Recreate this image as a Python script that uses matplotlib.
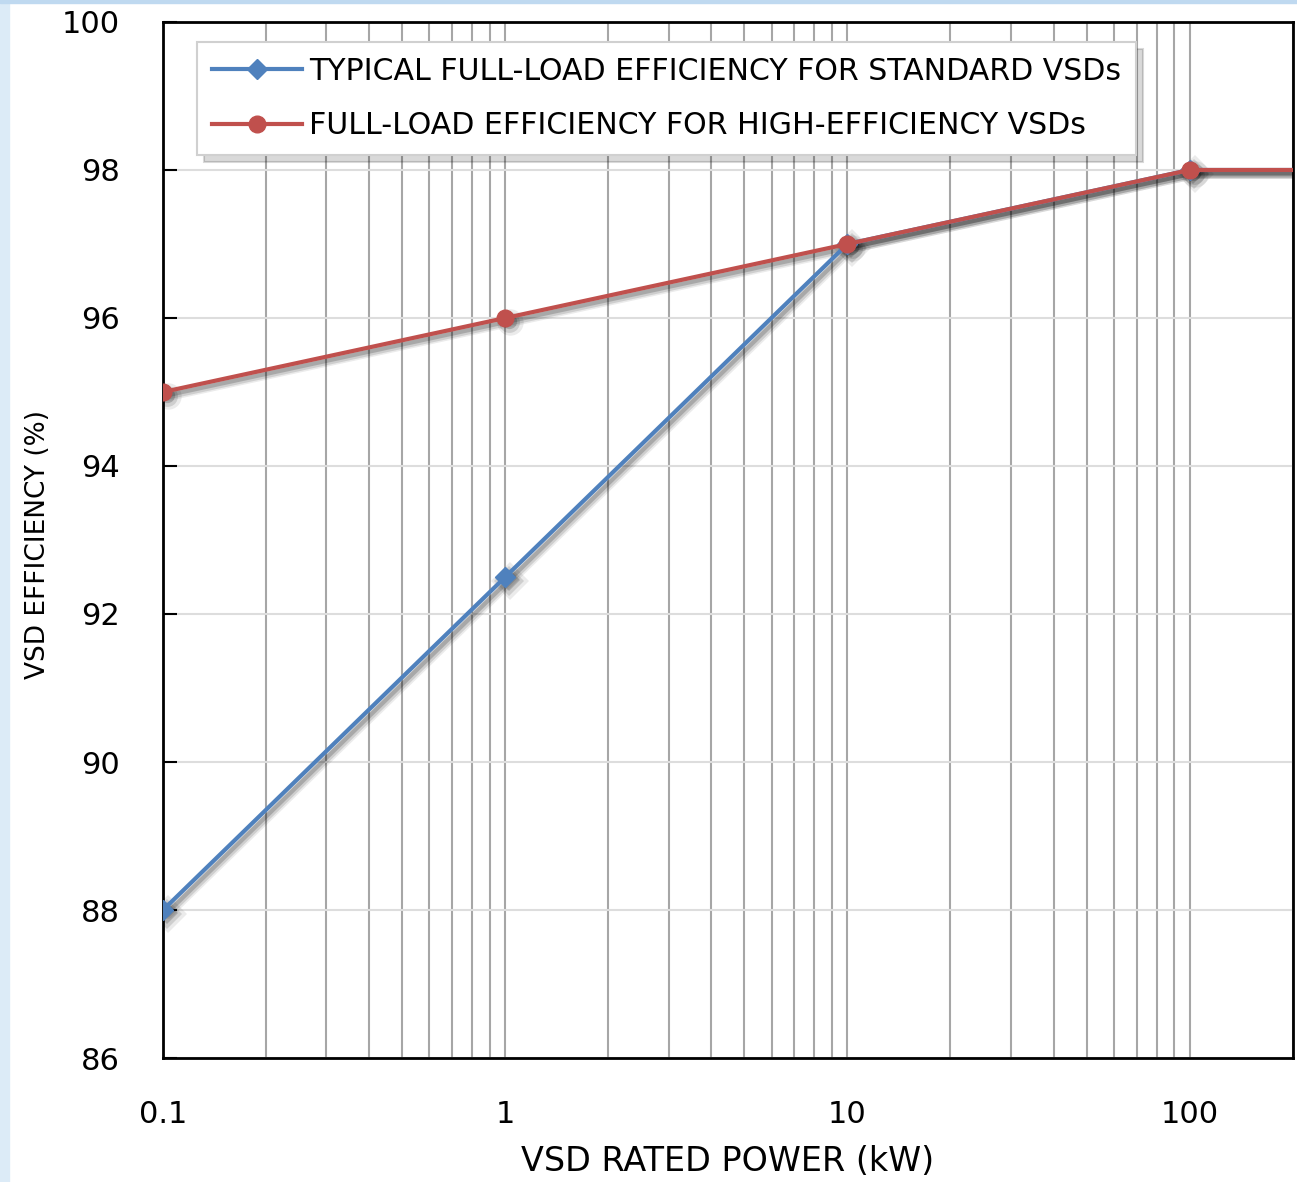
import matplotlib
matplotlib.use("Agg")
import matplotlib.pyplot as plt
from matplotlib.patches import Rectangle
from matplotlib.transforms import offset_copy
from matplotlib.ticker import FixedLocator, FixedFormatter, LogLocator, NullFormatter

power_kw = [0.1, 1, 10, 100, 1000]
standard_eff = [88, 92.5, 97, 98, 98]
high_eff = [95, 96, 97, 98, 98]
x_ticks = [0.1, 1, 10, 100]
x_tick_labels = ["0.1", "1", "10", "100"]
y_ticks = [86, 88, 90, 92, 94, 96, 98, 100]
series_labels = ["TYPICAL FULL-LOAD EFFICIENCY FOR STANDARD VSDs",
                 "FULL-LOAD EFFICIENCY FOR HIGH-EFFICIENCY VSDs"]

BLUE = "#4F81BD"
RED = "#C0504D"

fig = plt.figure(figsize=(12.97, 11.82), dpi=100)
fig.patches.append(Rectangle((0, 0), 0.007, 1, transform=fig.transFigure,
                             color="#DCEBF7", zorder=0))
fig.patches.append(Rectangle((0, 0.9975), 1, 0.0025, transform=fig.transFigure,
                             color="#BFD9F0", zorder=0))
ax = fig.add_axes([0.1257, 0.1049, 0.871, 0.8765])

# soft drop shadows (several faint layers)
for dx, dy, a, lw, ms in [(3.5, -3, 0.08, 7, 19), (3, -3, 0.12, 5, 15), (2.5, -2.5, 0.18, 3, 11)]:
    tr = offset_copy(ax.transData, fig=fig, x=dx, y=dy, units="points")
    for y, mk in [(standard_eff, "D"), (high_eff, "o")]:
        ax.plot(power_kw, y, color="black", alpha=a, lw=lw, marker=mk,
                markersize=ms, markeredgewidth=0, transform=tr, zorder=2,
                solid_capstyle="round")

ax.plot(power_kw, standard_eff, color=BLUE, lw=3, marker="D", markersize=10,
        label=series_labels[0], zorder=3)
ax.plot(power_kw, high_eff, color=RED, lw=3, marker="o", markersize=12,
        label=series_labels[1], zorder=4)

ax.set_xscale("log")
ax.set_xlim(0.1, 200)
ax.set_ylim(86, 100)

ax.xaxis.set_major_locator(FixedLocator(x_ticks))
ax.xaxis.set_major_formatter(FixedFormatter(x_tick_labels))
ax.xaxis.set_minor_locator(LogLocator(base=10, subs=range(2, 10), numticks=20))
ax.xaxis.set_minor_formatter(NullFormatter())
ax.set_yticks(y_ticks)

ax.grid(True, axis="x", which="both", color="#A6A6A6", lw=1.5)
ax.grid(True, axis="y", which="major", color="#DDDDDD", lw=1.5)
ax.set_axisbelow(True)

for s in ax.spines.values():
    s.set_color("black")
    s.set_linewidth(2)

ax.tick_params(axis="y", direction="in", length=10, width=1.5, pad=31,
               labelsize=22, colors="black")
ax.tick_params(axis="x", which="both", length=0, pad=30, labelsize=22)

ax.set_xlabel("VSD RATED POWER (kW)", fontsize=24, labelpad=12)
ax.set_ylabel("VSD EFFICIENCY (%)", fontsize=19)
ax.yaxis.set_label_coords(-0.099, 0.496)

leg = ax.legend(loc="upper left", bbox_to_anchor=(0.030, 0.9807),
                borderaxespad=0,
                prop={"size": 21.6},
                frameon=True, fancybox=False,
                shadow={"ox": 5, "oy": -5, "color": "black", "alpha": 0.15},
                edgecolor="#D0D0D0", handlelength=3.0, labelspacing=0.85,
                borderpad=0.5, numpoints=1, handletextpad=0.25)
leg.get_frame().set_linewidth(1.5)

fig.savefig("out.png", dpi=100)
